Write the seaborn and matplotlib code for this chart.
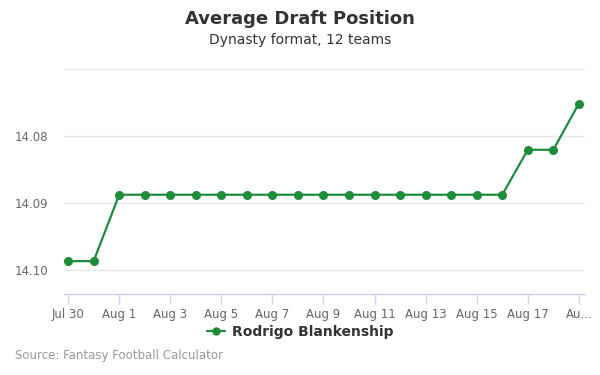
import matplotlib
matplotlib.use("Agg")
import matplotlib.pyplot as plt
import seaborn as sns
import pandas as pd

dates = ["Jul 30", "Jul 31", "Aug 1", "Aug 2", "Aug 3", "Aug 4", "Aug 5", "Aug 6",
         "Aug 7", "Aug 8", "Aug 9", "Aug 10", "Aug 11", "Aug 12", "Aug 13", "Aug 14",
         "Aug 15", "Aug 16", "Aug 17", "Aug 18", "Aug 19"]
adp = [14.0987, 14.0987, 14.0888, 14.0888, 14.0888, 14.0888, 14.0888, 14.0888,
       14.0888, 14.0888, 14.0888, 14.0888, 14.0888, 14.0888, 14.0888, 14.0888,
       14.0888, 14.0888, 14.0821, 14.0821, 14.0752]
yticks = [14.08, 14.09, 14.10]
series_name = "Rodrigo Blankenship"

df = pd.DataFrame({"idx": range(len(dates)), "adp": adp, "player": series_name})

sns.set_theme(style="white")
plt.rcParams['font.family'] = ['DejaVu Sans']

fig = plt.figure(figsize=(6, 3.75), dpi=100)
ax = fig.add_axes([0.1067, 0.216, 0.8683, 0.6027])
color = "#1f8c3b"
sns.lineplot(data=df, x="idx", y="adp", hue="player", palette=[color], marker="o",
             markersize=6.5, markeredgewidth=0, linewidth=1.6, ax=ax, legend=False)

ax.set_xlim(-0.16, 20.24)
ax.set_ylim(14.1036, 14.0699)
ax.set_yticks(yticks)
ax.set_yticklabels([f"{v:.2f}" for v in yticks])
for v in [14.07] + yticks:
    ax.axhline(v, color="#e6e6e6", linewidth=1, zorder=0)

tick_pos = list(range(0, len(dates), 2))
tick_labels = [dates[i] for i in tick_pos]
tick_labels[-1] = "Au..."
ax.set_xticks(tick_pos)
ax.set_xticklabels(tick_labels)
ax.tick_params(axis="x", bottom=True, colors="#ccd6eb", length=7.5, width=1,
               labelcolor="#666666", labelsize=8.5, pad=2.5)
ax.tick_params(axis="y", left=False, length=0, labelcolor="#666666", labelsize=8.5, pad=11.5)
ax.set_xlabel("")
ax.set_ylabel("")
for s in ["top", "right", "left"]:
    ax.spines[s].set_visible(False)
ax.spines["bottom"].set_color("#ccd6eb")
ax.spines["bottom"].set_linewidth(1)

fig.text(0.5, 1 - 19/375, "Average Draft Position", ha="center", va="center",
         fontsize=13, fontweight="bold", color="#333333")
fig.text(0.5, 1 - 40/375, "Dynasty format, 12 teams", ha="center", va="center",
         fontsize=10, color="#333333")

from matplotlib.lines import Line2D
h = Line2D([0], [0], color=color, marker="o", markersize=6, linewidth=1.6, markeredgewidth=0)
fig.legend([h], [series_name], loc="center", bbox_to_anchor=(0.5, 1 - 332/375),
           frameon=False, prop={"weight": "bold", "size": 10}, handlelength=1.3,
           handletextpad=0.5, labelcolor="#333333")

fig.text(15/600, 1 - 356/375, "Source: Fantasy Football Calculator", ha="left", va="center",
         fontsize=8.5, color="#999999")

fig.savefig("out.png", dpi=100)
